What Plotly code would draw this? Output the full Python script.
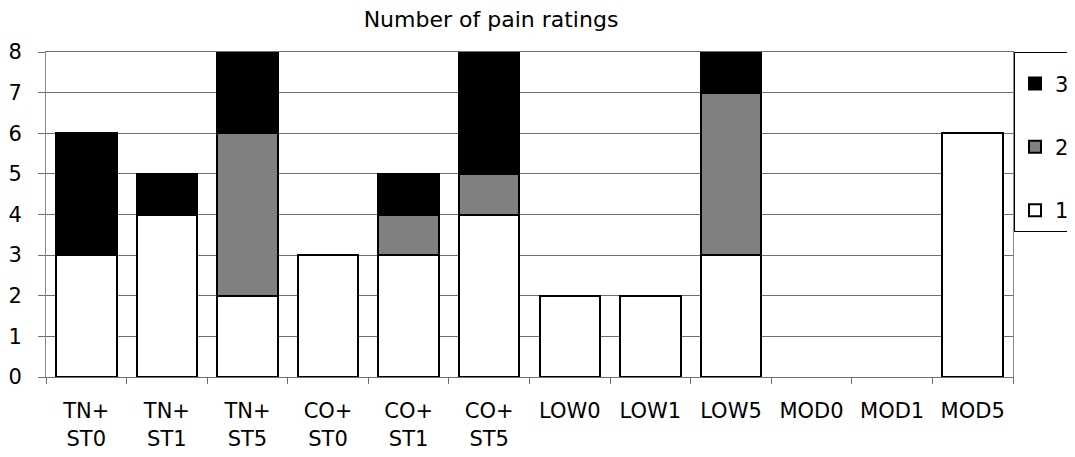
import plotly.graph_objects as go

# Categories and counts per pain rating
categories = ["TN+<br>ST0", "TN+<br>ST1", "TN+<br>ST5", "CO+<br>ST0", "CO+<br>ST1", "CO+<br>ST5",
              "LOW0", "LOW1", "LOW5", "MOD0", "MOD1", "MOD5"]
rating1 = [3, 4, 2, 3, 3, 4, 2, 2, 3, 0, 0, 6]
rating2 = [0, 0, 4, 0, 1, 1, 0, 0, 4, 0, 0, 0]
rating3 = [3, 1, 2, 0, 1, 3, 0, 0, 1, 0, 0, 0]

y_ticks = [0, 1, 2, 3, 4, 5, 6, 7, 8]

series = [
    ("1", rating1, "white", 3),
    ("2", rating2, "#808080", 2),
    ("3", rating3, "black", 1),
]

fig = go.Figure()

for name, values, color, rank in series:
    fig.add_trace(
        go.Bar(
            x=categories,
            y=[v if v else None for v in values],
            name=name,
            legendgroup=name,
            legendrank=rank,
            marker=dict(color=color, line=dict(color="black", width=2)),
        )
    )

# page body has an 8px margin, so the figure is offset by 8px
W, H = 1110, 449

fig.update_layout(
    barmode="stack",
    bargap=0.25,
    width=W,
    height=H,
    paper_bgcolor="white",
    plot_bgcolor="white",
    font=dict(family="DejaVu Sans, Arial, sans-serif", size=21, color="black"),
    title=dict(
        text="Number of pain ratings",
        x=483 / W,
        xref="container",
        xanchor="center",
        y=1 - 11 / H,
        yanchor="middle",
        font=dict(size=22),
    ),
    margin=dict(l=38, r=W - 1005, t=44, b=80),
    showlegend=True,
    legend=dict(
        x=(1006 - 38) / 967,
        xanchor="left",
        y=1,
        yanchor="top",
        traceorder="grouped",
        tracegroupgap=33,
        bordercolor="black",
        borderwidth=1,
        bgcolor="white",
        font=dict(size=21),
        title=dict(text="&nbsp;", font=dict(size=8)),
    ),
)

fig.update_yaxes(
    range=[0, 8],
    tickvals=y_ticks,
    showgrid=True,
    gridcolor="#6f6f6f",
    gridwidth=1,
    showline=True,
    linecolor="#8a8a8a",
    linewidth=1,
    mirror=True,
    ticks="outside",
    ticklen=7,
    tickcolor="#6f6f6f",
    ticklabelstandoff=12,
    automargin=False,
    zeroline=False,
)

fig.update_xaxes(
    showgrid=False,
    showline=True,
    linecolor="#6f6f6f",
    linewidth=1,
    mirror=True,
    ticks="outside",
    tickson="boundaries",
    ticklen=6,
    tickcolor="#6f6f6f",
    tickangle=0,
    ticklabelstandoff=15,
    automargin=False,
)

fig.write_html("out.html")
